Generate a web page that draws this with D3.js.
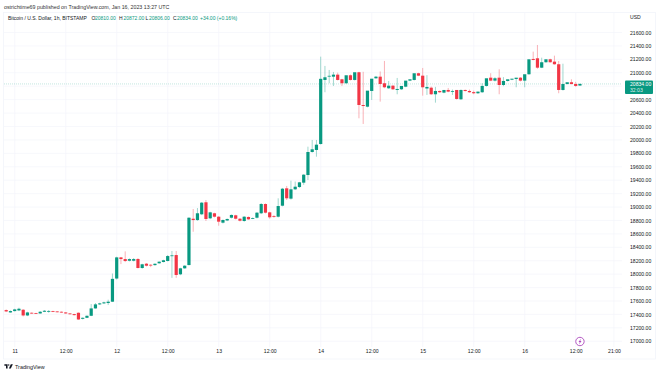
<!DOCTYPE html>
<html>
<head>
<meta charset="utf-8">
<script src="https://cdn.jsdelivr.net/npm/d3@7"></script>
<style>
  html, body { margin: 0; padding: 0; background: #fff; }
  text { font-family: "Liberation Sans", Arial, sans-serif; }
  .domain { display: none; }
  .tick line { display: none; }
</style>
</head>
<body>
<div id="chart"></div>
<script>
// hourly candles, first one is 2 hours before Jan 11 00:00
const firstHour = -2;
const opens = [17465,17430,17450,17460,17470,17385,17425,17420,17415,17440,17448,17450,17445,17440,17430,17415,17405,17425,17335,17350,17380,17490,17550,17565,17570,17590,
  17935,18250,18225,18200,18200,18226,18092,18156,18140,18135,18162,18181,18196,18270,18285,17998,18087,18136,18826,18806,18892,19071,18832,18907,18856,18767,18800,
  18841,18877,18826,18792,18852,18826,18841,18907,19045,18921,18866,18856,19020,19279,19125,19264,19298,19363,19477,19820,19850,19939,
  20893,20945,20942,20972,20903,20844,20963,20893,21008,20520,20495,20729,20918,20942,20844,20769,20808,20744,20754,20793,20883,20893,20993,20957,
  20766,20778,20680,20729,20704,20744,20719,20744,20605,20744,20729,20712,20695,20710,20804,20927,20883,20927,20818,20878,20897,20908,20927,20883,20978,21206,21216,21076,21157,21201,21166,21127,20744,20833,20859,20833,20810];
const highs = [17475,17460,17485,17500,17480,17440,17430,17425,17450,17465,17465,17455,17450,17445,17435,17420,17410,17430,17355,17385,17555,17570,17575,17590,17620,18010,
  18260,18255,18340,18235,18240,18240,18155,18165,18150,18160,18190,18215,18285,18345,18345,18095,18135,18845,18971,18985,19075,19105,18930,18915,18865,18815,18830,
  18890,18885,18835,18865,18860,18845,18925,19060,19055,18930,18880,19130,19285,19314,19393,19380,19375,19490,19899,19999,19999,21240,
  21102,21042,21012,21002,20910,20850,20975,20900,21015,21015,20530,20740,20953,21020,21176,20878,20815,20923,20765,20810,20890,20910,21000,21072,20965,
  20795,20790,20735,20740,20774,20750,20735,20750,20750,20750,20735,20720,20844,20810,20993,20935,21052,20935,20885,20908,20915,20935,20935,20990,21315,21414,21225,21165,21210,21255,21175,21135,20840,20903,20865,20840,20872];
const lows = [17435,17425,17445,17450,17370,17375,17410,17410,17410,17435,17425,17435,17430,17425,17410,17400,17385,17320,17325,17345,17375,17485,17540,17555,17540,17585,
  17920,18150,18180,18190,18190,18085,18080,18115,18105,18125,18155,18175,18190,17945,17945,17985,18080,18130,18632,18795,18880,18792,18820,18845,18722,18755,18790,
  18830,18815,18785,18780,18810,18820,18830,18895,18905,18826,18840,18845,19010,19105,19110,19255,19285,19330,19403,19810,19750,19930,
  20710,20844,20804,20885,20804,20835,20885,20885,20322,20237,20485,20595,20910,20570,20770,20760,20745,20680,20745,20785,20875,20885,20950,20659,20670,
  20670,20555,20700,20695,20710,20670,20600,20595,20720,20700,20680,20685,20700,20795,20875,20870,20680,20800,20870,20890,20784,20870,20784,20970,21185,21060,21070,21150,21150,21120,20695,20735,20825,20825,20790,20806];
const closes = [17445,17450,17475,17485,17385,17430,17415,17415,17440,17455,17452,17440,17435,17430,17415,17405,17390,17325,17350,17380,17490,17550,17565,17580,17590,17930,
  18250,18225,18196,18225,18225,18092,18147,18126,18130,18155,18186,18207,18270,18280,17988,18087,18126,18841,18806,18907,19065,18822,18921,18856,18782,18807,18822,
  18882,18826,18796,18856,18817,18836,18916,19045,18916,18847,18856,19015,19273,19130,19264,19303,19368,19482,19820,19860,19929,20910,
  20933,20955,20972,20893,20844,20963,20893,21008,20520,20505,20734,20912,20942,20833,20784,20808,20754,20759,20804,20883,20903,20993,20957,20784,
  20789,20680,20729,20710,20744,20719,20729,20610,20744,20729,20710,20695,20719,20804,20918,20883,20918,20818,20878,20903,20912,20927,20883,20978,21201,21191,21076,21157,21201,21157,21127,20744,20833,20859,20833,20804,20834];

const priceTicks = d3.range(17000, 21601, 200);
const timeTicks = [0,12,24,36,48,60,72,84,96,108,120,132,141];
const timeLabels = ["11","12:00","12","12:00","13","12:00","14","12:00","15","12:00","16","12:00","21:00"];
const lastPrice = 20834;

const upColor = "#089981", downColor = "#f23645";
const width = 660, height = 374;
const labelSize = 5.1;

const svg = d3.select("#chart").append("svg")
  .attr("width", width)
  .attr("height", height)
  .style("display", "block");

const x = d3.scaleLinear().domain([0, 132]).range([14.7, 575.7]);
const y = d3.scaleLinear().domain([17000, 21600]).range([341.3, 32.5]);

const plotLeft = 4, plotRight = 622, plotTop = 13, plotBottom = 347;

// grid
svg.append("g").selectAll("line").data(priceTicks).enter().append("line")
  .attr("x1", plotLeft).attr("x2", plotRight)
  .attr("y1", d => y(d)).attr("y2", d => y(d))
  .attr("stroke", "#f3f5fa").attr("stroke-width", 0.7);
svg.append("g").selectAll("line").data(timeTicks).enter().append("line")
  .attr("x1", d => x(d)).attr("x2", d => x(d))
  .attr("y1", plotTop).attr("y2", plotBottom)
  .attr("stroke", "#f3f5fa").attr("stroke-width", 0.7);

// frame
svg.append("rect")
  .attr("x", 3.5).attr("y", 12.5).attr("width", 652).attr("height", 346.5)
  .attr("fill", "none").attr("stroke", "#f0f3fa").attr("stroke-width", 0.7);

// last price line
svg.append("line")
  .attr("x1", plotLeft).attr("x2", plotRight)
  .attr("y1", y(lastPrice)).attr("y2", y(lastPrice))
  .attr("stroke", upColor).attr("stroke-opacity", 0.35)
  .attr("stroke-width", 0.7).attr("stroke-dasharray", "1,1");

// candles
const candles = opens.map((o, i) => ({ hour: firstHour + i, o: o, h: highs[i], l: lows[i], c: closes[i] }));
const candle = svg.append("g").selectAll("g").data(candles).enter().append("g");
candle.append("line")
  .attr("x1", d => x(d.hour)).attr("x2", d => x(d.hour))
  .attr("y1", d => y(d.h)).attr("y2", d => y(d.l))
  .attr("stroke", d => d.c >= d.o ? upColor : downColor)
  .attr("stroke-opacity", 0.55)
  .attr("stroke-width", 0.7);
candle.append("rect")
  .attr("x", d => x(d.hour) - 1.6)
  .attr("width", 3.2)
  .attr("y", d => y(Math.max(d.o, d.c)))
  .attr("height", d => Math.max(0.8, Math.abs(y(d.o) - y(d.c))))
  .attr("fill", d => d.c >= d.o ? upColor : downColor);

// price axis, the 20800 label sits under the last price box so it is left out
svg.append("g")
  .attr("transform", "translate(624,0)")
  .call(d3.axisRight(y).tickValues(priceTicks.filter(d => d !== 20800)).tickSize(0).tickPadding(6).tickFormat(d3.format(".2f")))
  .call(g => g.selectAll("text").attr("fill", "#131722").attr("font-size", labelSize).style("font-family", "Liberation Sans"));

svg.append("text").attr("x", 630).attr("y", 19).attr("font-size", labelSize).attr("fill", "#131722").text("USD");

// last price label
svg.append("rect")
  .attr("x", 625).attr("y", y(lastPrice) - 3.5)
  .attr("width", 28).attr("height", 13.5).attr("rx", 1)
  .attr("fill", upColor);
svg.append("text").attr("x", 630).attr("y", y(lastPrice) + 2)
  .attr("font-size", labelSize).attr("fill", "#fff").text("20834.00");
svg.append("text").attr("x", 630).attr("y", y(lastPrice) + 8.3)
  .attr("font-size", labelSize).attr("fill", "#fff").attr("fill-opacity", 0.85).text("32:03");

// time axis
svg.append("g")
  .attr("transform", "translate(0,346)")
  .call(d3.axisBottom(x).tickValues(timeTicks).tickSize(0).tickPadding(3).tickFormat((d, i) => timeLabels[i]))
  .call(g => g.selectAll("text").attr("fill", "#131722").attr("font-size", labelSize).style("font-family", "Liberation Sans"));

// header
svg.append("text").attr("x", 4).attr("y", 8.6).attr("font-size", 5.3).attr("fill", "#333")
  .text("ostrichtime69 published on TradingView.com, Jan 16, 2023 13:27 UTC");

// legend row
const legend = [
  { x: 8, t: "Bitcoin / U.S. Dollar, 1h, BITSTAMP", c: "#131722" },
  { x: 91.5, t: "O", c: "#131722" },
  { x: 95, t: "20810.00", c: upColor },
  { x: 119, t: "H", c: "#131722" },
  { x: 123.5, t: "20872.00", c: upColor },
  { x: 145.5, t: "L", c: "#131722" },
  { x: 149, t: "20806.00", c: upColor },
  { x: 173, t: "C", c: "#131722" },
  { x: 177, t: "20834.00", c: upColor },
  { x: 200, t: "+34.00 (+0.16%)", c: upColor }
];
svg.append("g").selectAll("text").data(legend).enter().append("text")
  .attr("x", d => d.x).attr("y", 20)
  .attr("font-size", 5).attr("fill", d => d.c).text(d => d.t);

// lightning badge
const badge = svg.append("g").attr("transform", `translate(${x(133)},341.5)`);
badge.append("circle").attr("r", 4.2).attr("fill", "#fff").attr("stroke", "#ab47bc").attr("stroke-width", 0.9);
badge.append("path").attr("d", "M1.3,-2.9 L-1.5,0.5 L-0.1,0.5 L-1.1,2.9 L1.6,-0.5 L0.2,-0.5 Z").attr("fill", "#ab47bc");

// TradingView mark
const logo = svg.append("g").attr("transform", "translate(4.4,364.2) scale(0.8)").attr("fill", "#131722");
logo.append("path").attr("d", "M0,0 H4 V5.4 H2 V1.9 H0 Z");
logo.append("circle").attr("cx", 5.4).attr("cy", 1).attr("r", 0.9);
logo.append("path").attr("d", "M8,0 H10.6 L8,5.4 H5.6 Z");
svg.append("text").attr("x", 15).attr("y", 369).attr("font-size", 5.4).attr("fill", "#131722").text("TradingView");
</script>
</body>
</html>
